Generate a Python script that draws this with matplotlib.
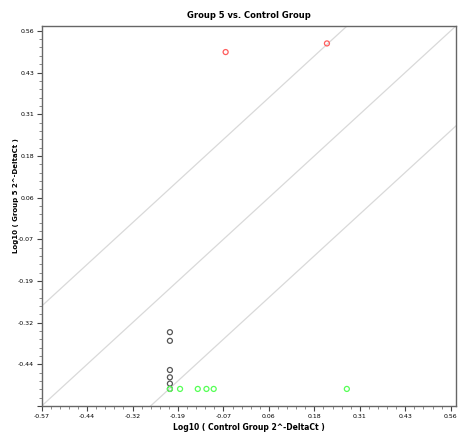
import numpy as np
import matplotlib
matplotlib.use("Agg")
import matplotlib.pyplot as plt
from matplotlib.ticker import FixedLocator, AutoMinorLocator

# log10 values
red_x = [-0.062, 0.218]
red_y = [0.496, 0.522]
black_x = [-0.216, -0.216, -0.216, -0.216, -0.216, -0.216]
black_y = [-0.348, -0.374, -0.462, -0.484, -0.503, -0.519]
green_x = [-0.216, -0.188, -0.139, -0.115, -0.095, 0.273]
green_y = [-0.519, -0.519, -0.519, -0.519, -0.519, -0.519]

lo, hi = -0.5704, 0.5745
ticks = [-0.5704 + k * 0.1256 for k in range(10)]
fold = np.log10(2)

fig = plt.figure(figsize=(4.58, 4.32), dpi=100)
ax = fig.add_axes([0.091, 0.0602, 0.9045, 0.8796])

# fold-change guide lines
xs = np.array([lo - 1, hi + 1])
for off in (fold, 0, -fold):
    ax.plot(xs, xs + off, color="#d9d9d9", lw=0.9, zorder=1)

ax.scatter(black_x, black_y, s=13, facecolors="none", edgecolors="#555555", linewidths=0.9, zorder=3)
ax.scatter(green_x, green_y, s=13, facecolors="none", edgecolors="#55ff55", linewidths=0.9, zorder=4)
ax.scatter(red_x, red_y, s=13, facecolors="none", edgecolors="#ff5c5c", linewidths=0.9, zorder=3)

ax.set_xlim(lo, hi)
ax.set_ylim(lo, hi)
ax.xaxis.set_major_locator(FixedLocator(ticks))
ax.yaxis.set_major_locator(FixedLocator(ticks))
ax.set_xticklabels([f"{t:.2f}" for t in ticks])
ax.set_yticklabels([""] + [f"{t:.2f}" for t in ticks[1:]])
ax.xaxis.set_minor_locator(AutoMinorLocator(5))
ax.yaxis.set_minor_locator(AutoMinorLocator(5))
ax.tick_params(which="major", length=3.5, width=0.8, color="#444444", labelsize=4.5, pad=2)
ax.tick_params(which="minor", length=2, width=0.6, color="#777777")

for s in ax.spines.values():
    s.set_color("#666666")
    s.set_linewidth(1.0)

ax.set_title("Group 5 vs. Control Group", fontsize=6.0, fontweight="bold", pad=6)
ax.set_xlabel("Log10 ( Control Group 2^-DeltaCt )", fontsize=5.5, fontweight="bold", labelpad=3)
ax.set_ylabel("Log10 ( Group 5 2^-DeltaCt )", fontsize=5.0, fontweight="bold")
ax.yaxis.set_label_coords(-0.055, 0.555)

fig.savefig("out.png", dpi=100)
